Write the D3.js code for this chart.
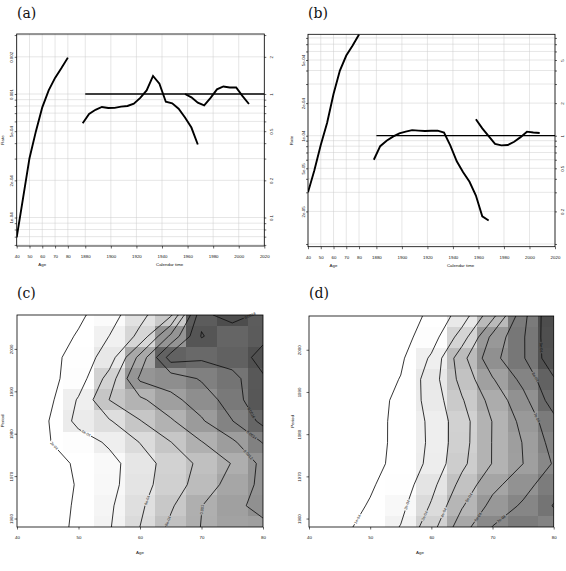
<!DOCTYPE html>
<html lang="en">
<head>
<meta charset="utf-8">
<title>Age, period and cohort effects</title>
<script src="https://d3js.org/d3.v7.min.js"></script>
<style>
  body { margin: 0; background: #ffffff; }
  svg { display: block; }
</style>
</head>
<body>
<div id="frame"></div>
<script>

// 5-year grid: ages, periods, birth cohorts
const ages = [40, 45, 50, 55, 60, 65, 70, 75, 80];
const periods = [1958, 1963, 1968, 1973, 1978, 1983, 1988, 1993, 1998, 2003, 2008];
const cohorts = [1878, 1883, 1888, 1893, 1898, 1903, 1908, 1913, 1918, 1923,
                 1928, 1933, 1938, 1943, 1948, 1953, 1958, 1963, 1968];

// (a) age-specific rate, cohort RR, period RR
const ageRateA = [0.000069, 0.000144, 0.000302, 0.000498, 0.00078, 0.00107, 0.00135, 0.00162, 0.00197];
const cohortRRA = [0.58, 0.69, 0.745, 0.785, 0.77, 0.772, 0.79, 0.80, 0.835, 0.93,
                   1.07, 1.40, 1.21, 0.865, 0.84, 0.76, 0.645, 0.535, 0.39];
const periodRRA = [1.0, 0.94, 0.85, 0.81, 0.93, 1.09, 1.15, 1.13, 1.13, 0.96, 0.83];

// (b)
const ageRateB = [0.000030, 0.000048, 0.000082, 0.000132, 0.000243, 0.00040, 0.00055, 0.00068, 0.00086];
const cohortRRB = [0.60, 0.80, 0.90, 0.98, 1.05, 1.09, 1.125, 1.115, 1.105, 1.11,
                   1.115, 1.07, 0.81, 0.58, 0.46, 0.375, 0.28, 0.18, 0.165];
const periodRRB = [1.42, 1.17, 0.99, 0.84, 0.815, 0.82, 0.88, 0.97, 1.09, 1.07, 1.06];

// ticks
const ageTicks = [40, 50, 60, 70, 80];
const calTicks = [1880, 1900, 1920, 1940, 1960, 1980, 2000, 2020];
const periodTicks = [1960, 1970, 1980, 1990, 2000];
const rateTicksA = [1e-4, 2e-4, 5e-4, 1e-3, 2e-3];
const rateLabelsA = ["1e-04", "2e-04", "5e-04", "0.001", "0.002"];
const rrTicksA = [0.1, 0.2, 0.5, 1, 2];
const rrLabelsA = ["0.1", "0.2", "0.5", "1", "2"];
const rateTicksB = [2e-5, 5e-5, 1e-4, 2e-4, 5e-4];
const rateLabelsB = ["2e-05", "5e-05", "1e-04", "2e-04", "5e-04"];
const rrTicksB = [0.2, 0.5, 1, 2, 5];
const rrLabelsB = ["0.2", "0.5", "1", "2", "5"];

// (c) rates, rows = periods (1958 first), cols = ages, units of 1e-4
const rateC = [
  [0.58, 1.15, 2.39, 3.85, 6.01, 8.40, 10.06, 11.18, 11.43],
  [0.60, 1.13, 2.27, 3.70, 5.66, 7.75, 9.96, 11.35, 12.78],
  [0.63, 1.14, 2.14, 3.39, 5.24, 7.02, 8.84, 10.81, 12.48],
  [0.78, 1.25, 2.28, 3.37, 5.05, 6.85, 8.44, 10.10, 12.53],
  [0.78, 1.88, 3.01, 4.31, 6.06, 7.96, 9.92, 11.63, 14.11],
  [0.65, 1.90, 4.61, 5.81, 7.91, 9.74, 11.77, 13.95, 16.58],
  [0.67, 1.43, 4.20, 8.02, 9.60, 11.44, 12.96, 14.90, 17.90],
  [0.59, 1.37, 2.95, 6.81, 12.34, 12.94, 14.19, 15.29, 17.81],
  [0.50, 1.24, 2.87, 4.87, 10.66, 16.93, 16.32, 17.02, 18.59],
  [0.35, 0.89, 2.20, 4.02, 6.48, 12.43, 18.14, 16.64, 17.59],
  [0.22, 0.64, 1.62, 3.14, 5.44, 7.68, 17.50, 18.82, 17.50]
];
const levelsC = [2, 4, 6, 8, 10, 12, 14, 16, 18];
const levelLabelsC = ["2e-04", "4e-04", "6e-04", "8e-04", "0.001", "0.0012", "0.0014", "0.0016", "0.0018"];

// (d)
const rateD = [
  [0.47, 0.76, 1.31, 2.04, 3.62, 5.57, 7.03, 7.73, 7.33],
  [0.39, 0.62, 1.07, 1.74, 3.10, 4.91, 6.31, 7.16, 8.05],
  [0.33, 0.53, 0.90, 1.46, 2.71, 4.32, 5.72, 6.60, 7.66],
  [0.27, 0.45, 0.77, 1.23, 2.28, 3.78, 5.04, 6.00, 7.08],
  [0.20, 0.42, 0.75, 1.19, 2.19, 3.64, 5.04, 6.04, 7.36],
  [0.14, 0.32, 0.72, 1.21, 2.21, 3.62, 5.03, 6.27, 7.69],
  [0.12, 0.25, 0.58, 1.24, 2.38, 3.91, 5.35, 6.67, 8.51],
  [0.11, 0.21, 0.46, 1.04, 2.52, 4.33, 5.92, 7.29, 8.90],
  [0.09, 0.20, 0.41, 0.84, 2.15, 4.67, 6.68, 7.90, 9.70],
  [0.06, 0.14, 0.33, 0.65, 1.51, 3.47, 6.30, 7.90, 9.80],
  [0.05, 0.09, 0.24, 0.53, 1.19, 2.46, 4.72, 7.71, 9.90]
];
const levelsD = [1, 2, 3, 4, 5, 6, 7, 8, 9];
const levelLabelsD = ["1e-04", "2e-04", "3e-04", "4e-04", "5e-04", "6e-04", "7e-04", "8e-04", "9e-04"];

// where the contour labels sit: [level index, age, period]
const spotsC = [[0, 45.9, 1977], [1, 51.1, 1979.8], [2, 60.8, 1964.5], [3, 63.8, 1959.8],
                [4, 69.5, 1962.2], [5, 77.9, 1975.5], [6, 78.4, 1980.2], [7, 78.2, 1985], [8, 78.4, 2006.1]];
const spotsD = [[0, 47.5, 1960.2], [1, 55.5, 1963.5], [2, 58.4, 1961], [3, 62, 1961.4], [4, 66.4, 1964.7],
                [5, 68, 1960], [6, 71.4, 1960], [6, 78.8, 1985], [7, 78, 1994.4], [8, 79.3, 2000.6]];

const FONT = '"Liberation Sans", Arial, Helvetica, sans-serif';
const svg = d3.select("#frame").append("svg").attr("width", 566).attr("height", 571);
svg.append("rect").attr("width", 566).attr("height", 571).attr("fill", "#fff");
const defs = svg.append("defs");

let nClip = 0;
function clip(L, T, R, B) {
    const id = "clip" + (nClip++);
    defs.append("clipPath").attr("id", id).append("rect")
        .attr("x", L).attr("y", T).attr("width", R - L).attr("height", B - T);
    return "url(#" + id + ")";
}

function logTicks(lo, hi) {
    const out = [];
    for (let e = Math.floor(Math.log10(lo)); e <= Math.ceil(Math.log10(hi)); e++) {
        for (let m = 1; m <= 9; m++) {
            const v = m * Math.pow(10, e);
            if (v >= lo && v <= hi) out.push(v);
        }
    }
    return out;
}

function labelFrom(ticks, labels) {
    return v => {
        const i = ticks.findIndex(t => Math.abs(t - v) / t < 1e-6);
        return i < 0 ? "" : labels[i];
    };
}

function styleAxis(g) {
    g.attr("font-size", 4.4).attr("font-family", FONT);
    g.select(".domain").remove();
    g.selectAll(".tick line").attr("stroke", "#000").attr("stroke-width", 0.6);
    g.selectAll(".tick text").attr("fill", "#111");
}

function rotateLabels(g, off) {
    g.selectAll(".tick text")
        .attr("transform", "rotate(-90)")
        .attr("x", 0).attr("y", off).attr("dy", null)
        .attr("text-anchor", "middle");
}

function title(x, y, txt, rot) {
    svg.append("text").attr("x", x).attr("y", y)
        .attr("transform", rot ? `rotate(-90,${x},${y})` : null)
        .attr("text-anchor", "middle").attr("font-family", FONT)
        .attr("font-size", 4.4).attr("fill", "#111").text(txt);
}

function tag(x, y, txt) {
    svg.append("text").attr("x", x).attr("y", y)
        .attr("font-family", '"DejaVu Serif", "Liberation Serif", serif')
        .attr("font-size", 14).attr("fill", "#111").text(txt);
}

const yearFmt = d3.format("d");

// age-period-cohort panel
function apcPanel(p) {
    const k = (p.R - p.L) / 193.6;
    const xAge = d3.scaleLinear().domain([40, 80]).range([p.L, p.L + 40 * k]);
    const xCal = d3.scaleLinear().domain([1880, 2020]).range([p.R - 140 * k, p.R]);
    const y = d3.scaleLog().domain([p.lo, p.hi]).range([p.B, p.T]);
    const yRR = d3.scaleLog().domain([p.lo / p.ref, p.hi / p.ref]).range([p.B, p.T]);
    const minor = logTicks(p.lo, p.hi);
    const minorRR = logTicks(p.lo / p.ref, p.hi / p.ref);

    const grid = svg.append("g").attr("stroke", "#cdcdcd").attr("stroke-width", 0.5);
    grid.selectAll("line.h").data(minor).join("line").attr("class", "h")
        .attr("x1", p.L).attr("x2", p.R).attr("y1", d => y(d)).attr("y2", d => y(d));
    grid.selectAll("line.v").data(ageTicks.map(xAge).concat(calTicks.map(xCal))).join("line")
        .attr("class", "v").attr("x1", d => d).attr("x2", d => d).attr("y1", p.T).attr("y2", p.B);

    const plot = svg.append("g").attr("clip-path", clip(p.L, p.T, p.R, p.B))
        .attr("fill", "none").attr("stroke", "#000");
    plot.append("line")
        .attr("x1", xCal(1880)).attr("x2", xCal(2020)).attr("y1", yRR(1)).attr("y2", yRR(1))
        .attr("stroke-width", 1.3);
    const line = d3.line();
    plot.append("path").attr("stroke-width", 1.9)
        .attr("d", line(ages.map((a, i) => [xAge(a), y(p.ageRate[i])])));
    plot.append("path").attr("stroke-width", 1.9)
        .attr("d", line(cohorts.map((c, i) => [xCal(c), yRR(p.cohortRR[i])])));
    plot.append("path").attr("stroke-width", 1.9)
        .attr("d", line(periods.map((c, i) => [xCal(c), yRR(p.periodRR[i])])));

    svg.append("rect").attr("x", p.L).attr("y", p.T).attr("width", p.R - p.L).attr("height", p.B - p.T)
        .attr("fill", "none").attr("stroke", "#000").attr("stroke-width", 0.8);

    const gl = svg.append("g").attr("transform", `translate(${p.L},0)`)
        .call(d3.axisLeft(y).tickValues(minor).tickSize(2).tickFormat(labelFrom(p.rateTicks, p.rateLabels)));
    styleAxis(gl); rotateLabels(gl, -3.5);
    const gr = svg.append("g").attr("transform", `translate(${p.R},0)`)
        .call(d3.axisRight(yRR).tickValues(minorRR).tickSize(2).tickFormat(labelFrom(p.rrTicks, p.rrLabels)));
    styleAxis(gr); rotateLabels(gr, 9);
    const ga = svg.append("g").attr("transform", `translate(0,${p.B})`)
        .call(d3.axisBottom(xAge).tickValues(ageTicks).tickSize(2.5).tickPadding(6.5).tickFormat(yearFmt));
    styleAxis(ga);
    const gc = svg.append("g").attr("transform", `translate(0,${p.B})`)
        .call(d3.axisBottom(xCal).tickValues(calTicks).tickSize(2.5).tickPadding(6.5).tickFormat(yearFmt));
    styleAxis(gc);

    title(xAge(60), p.B + 20, "Age");
    title(xCal(1946), p.B + 20, "Calendar time");
    title(p.titleX, (p.T + p.B) / 2, "Rate", true);
    tag(p.tagX, 18, p.tag);
}

// image + contour panel
function mapPanel(p) {
    const x = d3.scaleLinear().domain(d3.extent(ages)).range([p.L, p.R]);
    const y = d3.scaleLinear().domain(d3.extent(periods)).range([p.B, p.T]);
    const half = (ages[1] - ages[0]) / 2;
    const gray = d3.scaleLinear().domain(p.shade).range(["#ffffff", "#4b4b4b"]).clamp(true);
    const cp = clip(p.L, p.T, p.R, p.B);

    const cells = [];
    periods.forEach((pr, j) => ages.forEach((a, i) => cells.push({ a, pr, v: p.rates[j][i] })));
    svg.append("g").attr("clip-path", cp).selectAll("rect").data(cells).join("rect")
        .attr("x", d => x(d.a - half)).attr("y", d => y(d.pr + half))
        .attr("width", d => x(d.a + half) - x(d.a - half))
        .attr("height", d => y(d.pr - half) - y(d.pr + half))
        .attr("fill", d => gray(d.v)).attr("shape-rendering", "crispEdges");

    // contours on the grid of cell centres
    const gx = d3.scaleLinear().domain([0.5, ages.length - 0.5]).range(d3.extent(ages));
    const gy = d3.scaleLinear().domain([0.5, periods.length - 0.5]).range(d3.extent(periods));
    const toScreen = pt => [x(gx(pt[0])), y(gy(pt[1]))];
    const geo = d3.contours().size([ages.length, periods.length]).thresholds(p.levels)(p.rates.flat());
    const path = d3.geoPath(d3.geoTransform({
        point(px, py) { const s = toScreen([px, py]); this.stream.point(s[0], s[1]); }
    }));

    const maskId = "mask" + (nClip++);
    const mask = defs.append("mask").attr("id", maskId).attr("maskUnits", "userSpaceOnUse")
        .attr("x", 0).attr("y", 0).attr("width", 566).attr("height", 571);
    mask.append("rect").attr("width", 566).attr("height", 571).attr("fill", "#fff");

    svg.append("g").attr("clip-path", cp).append("g").attr("mask", `url(#${maskId})`)
        .selectAll("path").data(geo).join("path")
        .attr("d", path).attr("fill", "none").attr("stroke", "#111").attr("stroke-width", 0.85);

    const inside = s => s[0] >= p.L - 0.3 && s[0] <= p.R + 0.3 && s[1] >= p.T - 0.3 && s[1] <= p.B + 0.3;
    const fs = 3.8;
    p.spots.forEach(([li, a, pr]) => {
        const tx = x(a), ty = y(pr);
        let best = null;
        geo[li].coordinates.forEach(poly => poly.forEach(ring => {
            for (let n = 1; n < ring.length; n++) {
                const s0 = toScreen(ring[n - 1]), s1 = toScreen(ring[n]);
                if (!inside(s0) || !inside(s1)) continue;
                const dx = s1[0] - s0[0], dy = s1[1] - s0[1];
                const l2 = dx * dx + dy * dy;
                if (l2 === 0) continue;
                const t = Math.max(0, Math.min(1, ((tx - s0[0]) * dx + (ty - s0[1]) * dy) / l2));
                const q = [s0[0] + t * dx, s0[1] + t * dy];
                const dist = Math.hypot(q[0] - tx, q[1] - ty);
                if (!best || dist < best.dist) best = { q, dist, ang: Math.atan2(dy, dx) * 180 / Math.PI };
            }
        }));
        if (!best) return;
        let ang = best.ang;
        if (ang > 90) ang -= 180;
        if (ang < -90) ang += 180;
        const txt = p.levelLabels[li];
        const w = txt.length * fs * 0.56 + 1;
        const tr = `translate(${best.q[0]},${best.q[1]}) rotate(${ang})`;
        mask.append("rect").attr("x", -w / 2).attr("y", -fs * 0.6).attr("width", w).attr("height", fs * 1.2)
            .attr("transform", tr).attr("fill", "#000");
        svg.append("text").attr("transform", tr).attr("text-anchor", "middle").attr("dy", "0.35em")
            .attr("font-family", FONT).attr("font-size", fs).attr("fill", "#111").text(txt);
    });

    svg.append("rect").attr("x", p.L).attr("y", p.T).attr("width", p.R - p.L).attr("height", p.B - p.T)
        .attr("fill", "none").attr("stroke", "#000").attr("stroke-width", 0.8);

    const gb = svg.append("g").attr("transform", `translate(0,${p.B})`)
        .call(d3.axisBottom(x).tickValues(ageTicks).tickSize(2.5).tickPadding(6.5).tickFormat(yearFmt));
    styleAxis(gb);
    const gl = svg.append("g").attr("transform", `translate(${p.L},0)`)
        .call(d3.axisLeft(y).tickValues(periodTicks).tickSize(2.5).tickFormat(yearFmt));
    styleAxis(gl); rotateLabels(gl, p.leftOff);

    title(p.ageX, p.B + 27, "Age");
    title(p.periodX, (p.T + p.B) / 2, "Period", true);
    tag(p.tagX, 298, p.tag);
}

apcPanel({
    tag: "(a)", tagX: 17, titleX: 4,
    L: 16.7, R: 264.3, T: 34, B: 246,
    lo: 5.88e-5, hi: 3.06e-3, ref: 0.001,
    ageRate: ageRateA, cohortRR: cohortRRA, periodRR: periodRRA,
    rateTicks: rateTicksA, rateLabels: rateLabelsA, rrTicks: rrTicksA, rrLabels: rrLabelsA
});
apcPanel({
    tag: "(b)", tagX: 308, titleX: 292.5,
    L: 308, R: 555, T: 34.3, B: 246.7,
    lo: 9.44e-6, hi: 8.64e-4, ref: 1e-4,
    ageRate: ageRateB, cohortRR: cohortRRB, periodRR: periodRRB,
    rateTicks: rateTicksB, rateLabels: rateLabelsB, rrTicks: rrTicksB, rrLabels: rrLabelsB
});
mapPanel({
    tag: "(c)", tagX: 17, L: 17, R: 263, T: 315, B: 527,
    rates: rateC, levels: levelsC, levelLabels: levelLabelsC, spots: spotsC,
    shade: [2.8, 19], leftOff: -3.8, ageX: 140, periodX: 3.5
});
mapPanel({
    tag: "(d)", tagX: 309, L: 309, R: 553.7, T: 316, B: 527,
    rates: rateD, levels: levelsD, levelLabels: levelLabelsD, spots: spotsD,
    shade: [1.4, 10], leftOff: -7.8, ageX: 420, periodX: 294
});

</script>
</body>
</html>
